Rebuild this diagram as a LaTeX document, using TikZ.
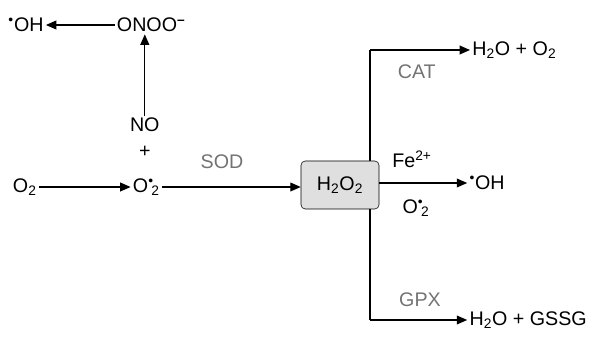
\documentclass[tikz,border=0pt]{standalone}
\usepackage{fontspec}
\setmainfont{Liberation Sans}
\usetikzlibrary{arrows.meta,positioning}
\newcommand{\rad}{\textsuperscript{\textbullet}}
\newcommand{\supox}{O\rad\kern-0.12em\textsubscript{2}}
\begin{document}
\begin{tikzpicture}[
  font=\fontsize{14}{16}\selectfont,
  sp/.style={inner sep=1.5pt},
  enz/.style={inner sep=1pt, text=black!55},
  box/.style={draw, rounded corners=3pt, fill=gray!25, minimum width=1.95cm, minimum height=1.2cm},
  arr/.style={-{Triangle[length=2.6mm,width=2.2mm]}, line width=0.9pt},
  ln/.style={line width=0.9pt}]
\useasboundingbox (0,0) rectangle (14.8,8.425);
% ---------------- superoxide and peroxynitrite (left) ----------------
\node[sp] (o2)   at (0.62,3.75) {O\textsubscript{2}};
\node[sp] (sup)  at (3.66,3.75) {\supox};
\node[sp] (plus) at (3.62,4.62) {+};
\node[sp] (no)   at (3.62,5.30) {NO};
\node[sp] (onoo) at (3.78,7.80) {ONOO\textsuperscript{\textbf{--}}};
\node[sp] (oh1)  at (0.65,7.80) {\rad OH};
\draw[arr] (o2.east) -- (o2.east -| sup.west);
\draw[arr] (no.north) -- (no.north |- onoo.south);
\draw[arr] (onoo) -- (oh1);
% ---------------- hydrogen peroxide branches (right) ----------------
\node[sp, anchor=west] (wo)  at (11.75,7.175) {H\textsubscript{2}O + O\textsubscript{2}};
\node[sp, anchor=west] (oh2) at (11.68,3.85) {\rad OH};
\node[sp, anchor=west] (wg)  at (11.68,0.425) {H\textsubscript{2}O + GSSG};
\coordinate (split) at (9.25,3.85);
\coordinate (top) at (split |- wo.west);
\coordinate (bot) at (split |- wg.west);
\draw[ln] (top) -- (bot);
\node[box] (h2o2) at (8.50,3.80) {H\textsubscript{2}O\textsubscript{2}};
\draw[arr] (sup.east) -- (sup.east -| h2o2.west);
\draw[arr] (top) -- (wo.west);
\draw[arr] (h2o2.east |- oh2.west) -- (oh2.west);
\draw[arr] (bot) -- (wg.west);
% ---------------- labels ----------------
\node[enz] (sod) at (5.55,4.37) {SOD};
\node[enz] (cat) at (10.42,6.62) {CAT};
\node[enz] (gpx) at (10.50,0.92) {GPX};
\node[sp] (fe)   at (10.30,4.45) {Fe\textsuperscript{2+}};
\node[sp] (sup2) at (10.40,3.22) {\supox};
\end{tikzpicture}
\end{document}
